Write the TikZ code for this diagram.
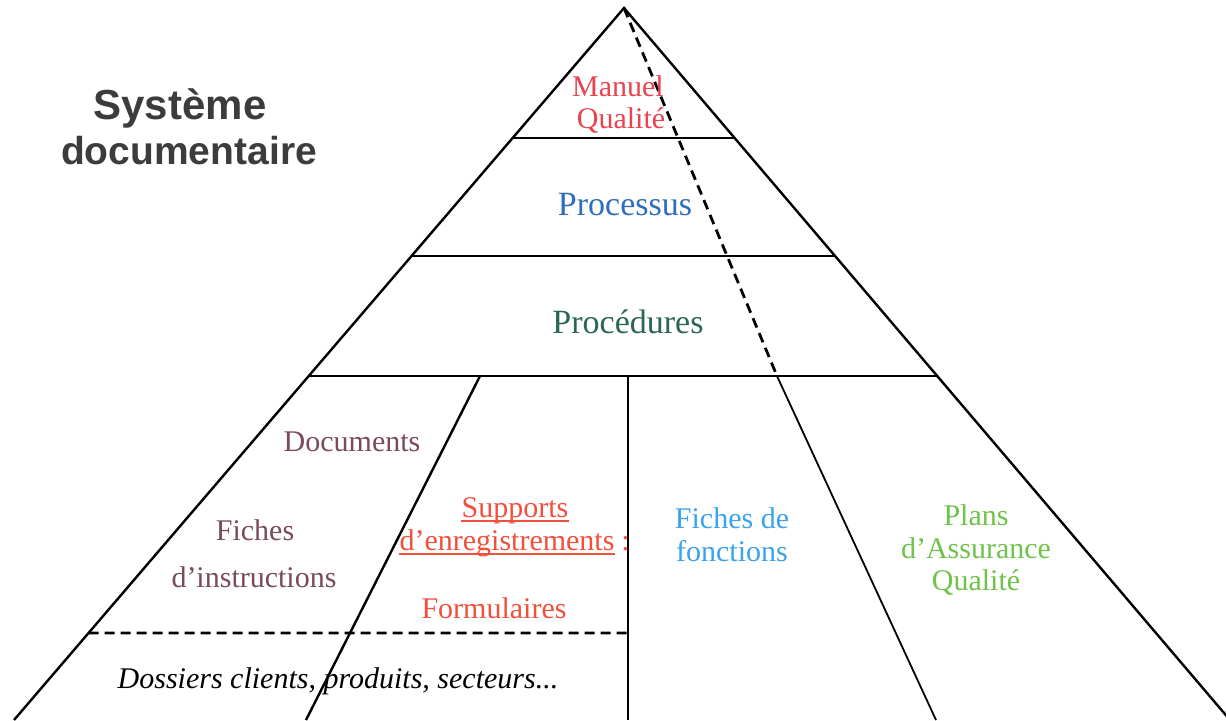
\documentclass[tikz,border=0pt]{standalone}
\usepackage{fontspec}
\usetikzlibrary{calc}
\setmainfont{Liberation Serif}
\newfontfamily\titlefont{Liberation Sans}
\definecolor{mqred}{HTML}{E8434F}
\definecolor{procblue}{HTML}{2F6EBA}
\definecolor{procgreen}{HTML}{2A6650}
\definecolor{docbrown}{HTML}{7B4B5B}
\definecolor{suporange}{HTML}{F2503C}
\definecolor{ficheblue}{HTML}{3AA3EE}
\definecolor{plangreen}{HTML}{6FC24A}
\definecolor{titlegray}{HTML}{3C3C3C}
\tikzset{
  edge/.style={line width=1.2pt, black},
  thinedge/.style={line width=0.9pt, black},
  dashedge/.style={line width=1.4pt, black, dash pattern=on 5pt off 3pt},
  ul/.style={line width=0.6pt, suporange},
  lbl/.style={inner sep=0pt, anchor=base, font=\fontsize{15}{18}\selectfont},
  biglbl/.style={inner sep=0pt, anchor=base, font=\fontsize{17}{20}\selectfont},
  titlelbl/.style={inner sep=0pt, anchor=base, text=titlegray, font=\titlefont\bfseries\fontsize{19.5}{23}\selectfont}
}
\begin{document}
\begin{tikzpicture}[x=0.5pt,y=-0.5pt]
\clip (0,0) rectangle (1226,720);
\fill[white] (0,0) rectangle (1226,720);
% frame points
\coordinate (A) at (624,8);
\coordinate (BL) at (14,720);
\coordinate (BR) at (1230,720);
\coordinate (L1) at ($(A)!0.1826!(BL)$);
\coordinate (R1) at ($(A)!0.1826!(BR)$);
\coordinate (L2) at ($(A)!0.3483!(BL)$);
\coordinate (R2) at ($(A)!0.3483!(BR)$);
\coordinate (L3) at ($(A)!0.5169!(BL)$);
\coordinate (R3) at ($(A)!0.5169!(BR)$);
\coordinate (L4) at ($(A)!0.8778!(BL)$);
\coordinate (D3) at (777,376);
\coordinate (DB) at (936,720);
\coordinate (S3) at (480,376);
\coordinate (SB) at (306,720);
\coordinate (V3) at (628,376);
\coordinate (V4) at (628,633);
\coordinate (VB) at (628,720);
% outline
\draw[edge] (BL) -- (A) -- (BR);
\draw[edge] (L1) -- (R1);
\draw[edge] (L2) -- (R2);
\draw[edge] (L3) -- (R3);
\draw[dashedge] (A) -- (D3);
\draw[thinedge] (D3) -- (DB);
\draw[edge] (S3) -- (SB);
\draw[edge] (V3) -- (VB);
\draw[dashedge] (L4) -- (V4);
% title
\node[titlelbl, font=\titlefont\bfseries\fontsize{21}{25}\selectfont] (t1) at (180,119) {Système};
\node[titlelbl] (t2) at (189,164) {documentaire};
% labels
\node[lbl, text=mqred] (mq1) at (618,96) {Manuel};
\node[lbl, text=mqred] (mq2) at (621,128) {Qualité};
\node[biglbl, text=procblue] (proc) at (625,215) {Processus};
\node[biglbl, text=procgreen] (pcd) at (628,333) {Procédures};
\node[lbl, text=docbrown] (doc) at (352,451) {Documents};
\node[lbl, text=docbrown] (fi1) at (255,540) {Fiches};
\node[lbl, text=docbrown] (fi2) at (254,587) {d’instructions};
\node[lbl, text=suporange] (sup1) at (515,517) {Supports};
\node[lbl, text=suporange] (sup2) at (507,550) {d’enregistrements};
\node[lbl, text=suporange, anchor=base west] (colon) at ([xshift=3pt]sup2.base east) {:};
\draw[ul] ([yshift=-2pt]sup1.base west) -- ([yshift=-2pt]sup1.base east);
\draw[ul] ([yshift=-2pt]sup2.base west) -- ([yshift=-2pt]sup2.base east);
\node[lbl, text=suporange] (form) at (494,618) {Formulaires};
\node[lbl] (dos) at (338,688) {\itshape Dossiers clients, produits, secteurs...};
\node[lbl, text=ficheblue] (ff1) at (732,528) {Fiches de};
\node[lbl, text=ficheblue] (ff2) at (732,561) {fonctions};
\node[lbl, text=plangreen] (pl1) at (976,525) {Plans};
\node[lbl, text=plangreen] (pl2) at (976,558) {d’Assurance};
\node[lbl, text=plangreen] (pl3) at (976,590) {Qualité};
\end{tikzpicture}
\end{document}
